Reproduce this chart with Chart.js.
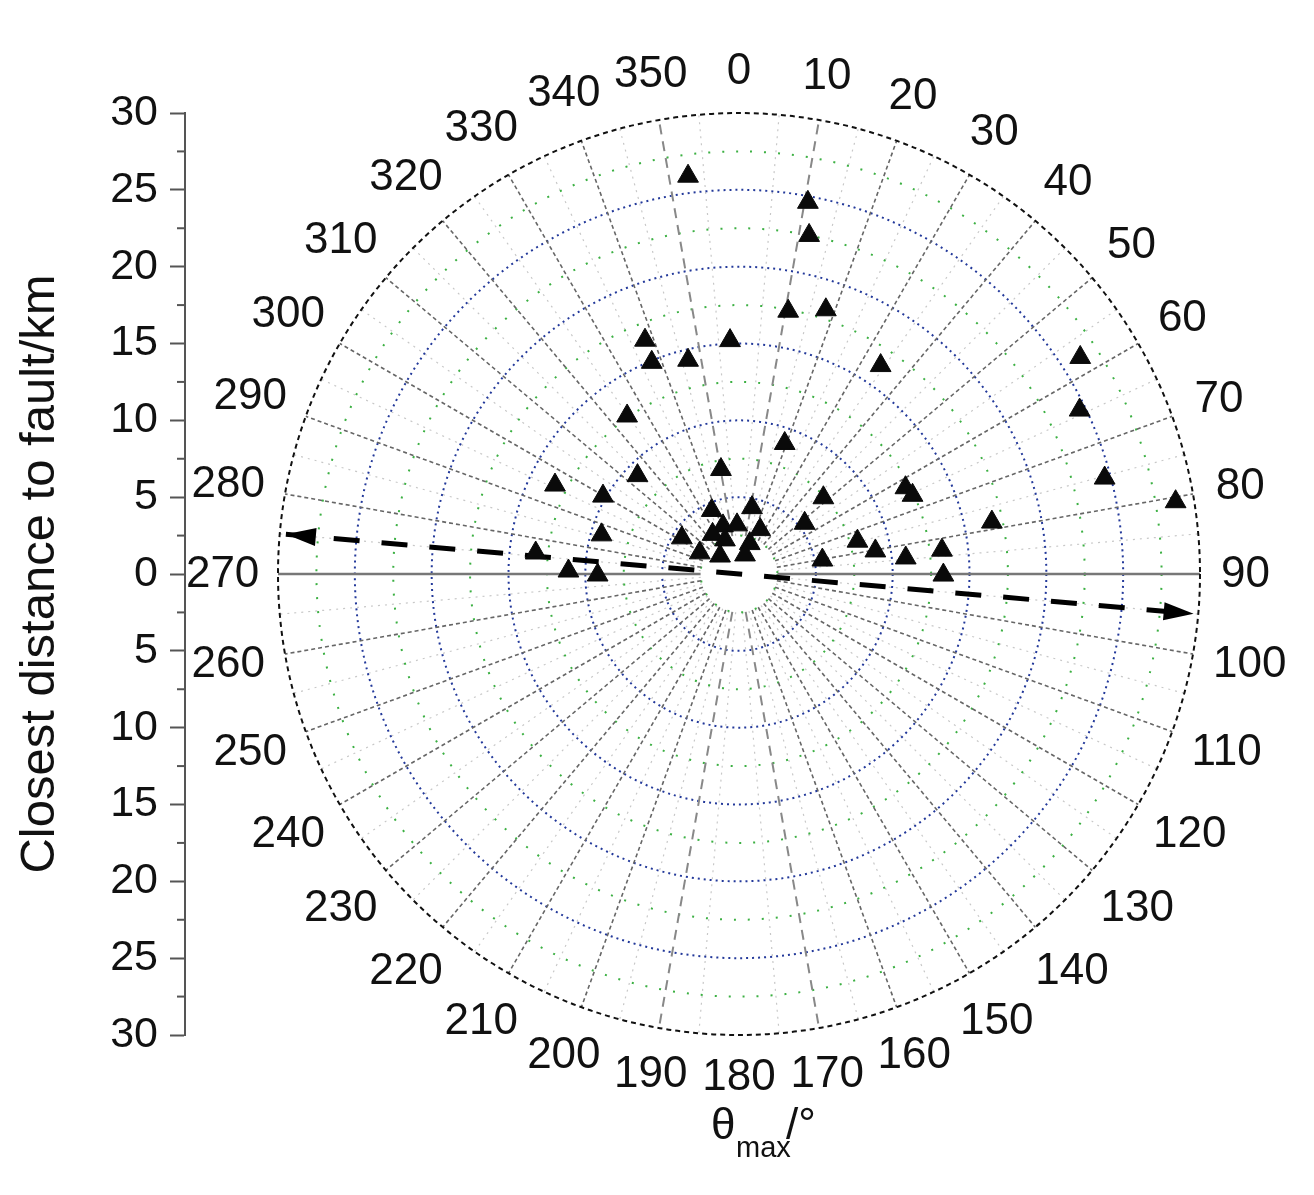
<!DOCTYPE html>
<html>
<head>
<meta charset="utf-8">
<script src="https://cdn.jsdelivr.net/npm/chart.js@4.4.1/dist/chart.umd.min.js"></script>
<style>
  body { margin: 0; background: #fff; }
  #wrap { width: 1314px; height: 1195px; }
</style>
</head>
<body>
<div id="wrap"><canvas id="polarChart" width="1314" height="1195"></canvas></div>
<script>
// direction of theta_max (deg, clockwise from 0 at top) and closest distance to fault (km)
const thetaMax = [352.7, 10.5, 11.7, 10.6, 18.2, 338.1, 337.6, 346.6, 357.8, 34.2,
                  57.6, 64.3, 75.3, 80.6, 324.7, 19.3, 350.2, 314.1, 295.8, 299.8,
                  62.6, 65.6, 47.9, 78.4, 11.1, 336.8, 52.3, 285.9, 302.3, 341.6,
                  357.7, 25.5, 326.3, 337.6, 19.5, 298.3, 313.5, 17.5, 74.5, 80.4,
                  80.5, 84.5, 83.3, 90.3, 275.9, 271.0, 269.6];
const faultDist = [26.1, 24.6, 22.5, 17.4, 18.1, 16.4, 14.9, 14.3, 15.2, 16.4,
                   26.3, 24.6, 24.6, 28.8, 12.6, 9.0, 6.9, 9.2, 13.3, 10.2,
                   12.2, 12.4, 7.4, 16.8, 4.4, 4.5, 5.4, 9.3, 4.4, 3.3,
                   3.2, 3.2, 3.1, 2.4, 2.1, 2.9, 1.7, 1.3, 8.0, 9.0,
                   5.5, 10.9, 13.3, 13.3, 13.3, 11.1, 9.2];

// dashed trend line with arrows at both ends
const trendTheta = [275, 95];
const trendDist = [29.6, 29.7];

// polar grid
const angleTicks = [0, 10, 20, 30, 40, 50, 60, 70, 80, 90, 100, 110, 120, 130, 140, 150, 160, 170,
                    180, 190, 200, 210, 220, 230, 240, 250, 260, 270, 280, 290, 300, 310, 320, 330, 340, 350];
const ringValues = [5, 10, 15, 20, 25];
const minorRings = [2.5, 7.5, 12.5, 17.5, 22.5, 27.5];
const rMax = 30;
const rInner = 2.5;

const FONT = '"Liberation Sans", Arial, sans-serif';
const rad = d => d * Math.PI / 180;

function toXY(th, r) {
    return th.map((t, i) => ({ x: r[i] * Math.sin(rad(t)), y: r[i] * Math.cos(rad(t)) }));
}

const polarGrid = {
    id: 'polarGrid',
    beforeDatasetsDraw(chart) {
        const { ctx, scales: { x, y } } = chart;
        const cx = x.getPixelForValue(0), cy = y.getPixelForValue(0);
        const pr = v => x.getPixelForValue(v) - cx;
        const ray = (a, r0, r1) => {
            ctx.beginPath();
            ctx.moveTo(cx + pr(r0) * Math.sin(rad(a)), cy - pr(r0) * Math.cos(rad(a)));
            ctx.lineTo(cx + pr(r1) * Math.sin(rad(a)), cy - pr(r1) * Math.cos(rad(a)));
            ctx.stroke();
        };
        const ring = r => { ctx.beginPath(); ctx.arc(cx, cy, pr(r), 0, 2 * Math.PI); ctx.stroke(); };
        ctx.save();

        // minor spokes at 5 deg offsets
        ctx.strokeStyle = '#c8c8c8'; ctx.lineWidth = 1.2; ctx.setLineDash([2, 5]);
        angleTicks.forEach(a => ray(a + 5, rInner, rMax));

        // minor rings (green)
        ctx.strokeStyle = '#3cb043'; ctx.lineWidth = 2; ctx.setLineDash([2, 12]);
        minorRings.forEach(ring);

        // major rings (blue)
        ctx.strokeStyle = '#23399a'; ctx.lineWidth = 2; ctx.setLineDash([2, 4]);
        ringValues.forEach(ring);

        // major spokes
        angleTicks.forEach(a => {
            if (a % 90 === 0) return;
            if (a === 10 || a === 350 || a === 170 || a === 190) {
                ctx.strokeStyle = '#888'; ctx.lineWidth = 2; ctx.setLineDash([10, 7]);
            } else {
                ctx.strokeStyle = '#666'; ctx.lineWidth = 1.6; ctx.setLineDash([4, 3]);
            }
            ray(a, rInner, rMax);
        });

        // 90-270 line
        ctx.strokeStyle = '#777'; ctx.lineWidth = 2.5; ctx.setLineDash([]);
        ray(90, rInner, rMax); ray(270, rInner, rMax);

        // outer circle
        ctx.strokeStyle = '#111'; ctx.lineWidth = 2; ctx.setLineDash([5, 4]);
        ring(rMax);
        ctx.restore();
    },
    afterDraw(chart) {
        const { ctx, scales: { x, y } } = chart;
        const cx = x.getPixelForValue(0), cy = y.getPixelForValue(0);
        const R = x.getPixelForValue(rMax) - cx;
        ctx.save();

        // angle labels
        ctx.font = '44px ' + FONT;
        ctx.fillStyle = '#111';
        ctx.textAlign = 'center';
        ctx.textBaseline = 'middle';
        angleTicks.forEach(a => {
            const s = Math.sin(rad(a)), c = Math.cos(rad(a));
            const w = ctx.measureText(String(a)).width;
            const d = R + 26 + 16 * Math.abs(c) + 0.8 * (w / 2) * Math.abs(s);
            ctx.fillText(String(a), cx + d * s, cy - d * c + 1);
        });

        // minor ticks on the distance axis
        const ax = chart.chartArea.left;
        ctx.strokeStyle = '#555'; ctx.lineWidth = 2;
        for (let v = -27.5; v <= 27.5; v += 5) {
            const py = y.getPixelForValue(v);
            ctx.beginPath(); ctx.moveTo(ax - 8, py); ctx.lineTo(ax, py); ctx.stroke();
        }

        // arrow heads on the trend line
        const pts = chart.getDatasetMeta(1).data;
        [[pts[0], pts[1]], [pts[1], pts[0]]].forEach(([p, q]) => {
            const dx = p.x - q.x, dy = p.y - q.y, L = Math.hypot(dx, dy);
            const ux = dx / L, uy = dy / L;
            const bx = p.x - ux * 30, by = p.y - uy * 30;
            ctx.fillStyle = '#000';
            ctx.beginPath();
            ctx.moveTo(p.x, p.y);
            ctx.lineTo(bx - uy * 9, by + ux * 9);
            ctx.lineTo(bx + uy * 9, by - ux * 9);
            ctx.closePath();
            ctx.fill();
        });

        // bottom title: theta_max/°
        const ty = chart.chartArea.bottom + 104;
        ctx.textAlign = 'left';
        ctx.textBaseline = 'alphabetic';
        ctx.fillStyle = '#111';
        ctx.font = '44px ' + FONT;
        ctx.fillText('θ', cx - 28, ty);
        ctx.font = '29px ' + FONT;
        ctx.fillText('max', cx - 3, ty + 18);
        ctx.font = '44px ' + FONT;
        ctx.fillText('/°', cx + 47, ty);
        ctx.restore();
    }
};

const ctx = document.getElementById('polarChart').getContext('2d');
const polarChart = new Chart(ctx, {
    type: 'scatter',
    data: {
        datasets: [{
            label: 'stations',
            data: toXY(thetaMax, faultDist),
            pointStyle: 'triangle',
            pointRadius: 12,
            pointHoverRadius: 12,
            backgroundColor: '#0a0a0a',
            borderColor: '#0a0a0a',
            borderWidth: 1
        }, {
            label: 'trend',
            data: toXY(trendTheta, trendDist),
            showLine: true,
            borderColor: '#000',
            borderWidth: 5,
            borderDash: [26, 22],
            pointRadius: 0
        }]
    },
    options: {
        responsive: false,
        animation: false,
        layout: { padding: { left: 0, right: 21, top: 113, bottom: 160 } },
        plugins: { legend: { display: false }, tooltip: { enabled: false } },
        scales: {
            x: {
                type: 'linear',
                display: false,
                min: -36.052,
                max: 36.052
            },
            y: {
                type: 'linear',
                min: -30,
                max: 30,
                afterFit(scale) { scale.width = 185; },
                border: { display: true, color: '#555', width: 2 },
                grid: { drawOnChartArea: false, drawTicks: true, tickLength: 15, tickColor: '#555', tickWidth: 2 },
                ticks: {
                    stepSize: 5,
                    padding: 12,
                    color: '#111',
                    font: { family: FONT, size: 43 },
                    callback: v => String(Math.abs(v))
                },
                title: {
                    display: true,
                    text: 'Closest distance to fault/km',
                    color: '#111',
                    font: { family: FONT, size: 49 },
                    padding: { top: 11, bottom: 0 }
                }
            }
        }
    },
    plugins: [polarGrid]
});
</script>
</body>
</html>
